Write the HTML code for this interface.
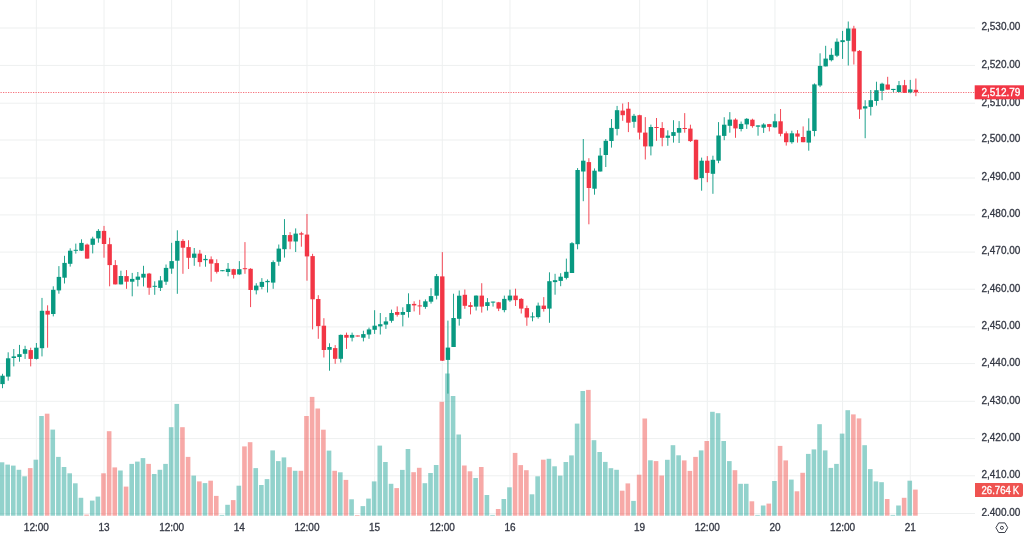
<!DOCTYPE html>
<html><head><meta charset="utf-8"><style>
html,body{margin:0;padding:0;background:#fff;width:1024px;height:535px;overflow:hidden}
svg{display:block;filter:blur(0.3px)}
.ax{font-family:"Liberation Sans",sans-serif;font-size:10px;fill:#343844;stroke:#343844;stroke-width:0.3px}
</style></head><body>
<svg width="1024" height="535" viewBox="0 0 1024 535">
<rect x="0" y="513" width="975" height="1" fill="#EEF0F0"/>
<rect x="0" y="475.3" width="975" height="1" fill="#EEF0F0"/>
<rect x="0" y="438.1" width="975" height="1" fill="#EEF0F0"/>
<rect x="0" y="400.8" width="975" height="1" fill="#EEF0F0"/>
<rect x="0" y="363.1" width="975" height="1" fill="#EEF0F0"/>
<rect x="0" y="326.4" width="975" height="1" fill="#EEF0F0"/>
<rect x="0" y="288.7" width="975" height="1" fill="#EEF0F0"/>
<rect x="0" y="251.6" width="975" height="1" fill="#EEF0F0"/>
<rect x="0" y="214.4" width="975" height="1" fill="#EEF0F0"/>
<rect x="0" y="177.5" width="975" height="1" fill="#EEF0F0"/>
<rect x="0" y="139.5" width="975" height="1" fill="#EEF0F0"/>
<rect x="0" y="102.7" width="975" height="1" fill="#EEF0F0"/>
<rect x="0" y="64.9" width="975" height="1" fill="#EEF0F0"/>
<rect x="0" y="27.5" width="975" height="1" fill="#EEF0F0"/>
<rect x="35.85" y="0" width="1" height="515.7" fill="#EEF0F0"/>
<rect x="103.51" y="0" width="1" height="515.7" fill="#EEF0F0"/>
<rect x="171.16" y="0" width="1" height="515.7" fill="#EEF0F0"/>
<rect x="238.82" y="0" width="1" height="515.7" fill="#EEF0F0"/>
<rect x="306.48" y="0" width="1" height="515.7" fill="#EEF0F0"/>
<rect x="374.14" y="0" width="1" height="515.7" fill="#EEF0F0"/>
<rect x="441.79" y="0" width="1" height="515.7" fill="#EEF0F0"/>
<rect x="509.45" y="0" width="1" height="515.7" fill="#EEF0F0"/>
<rect x="639.13" y="0" width="1" height="515.7" fill="#EEF0F0"/>
<rect x="706.78" y="0" width="1" height="515.7" fill="#EEF0F0"/>
<rect x="774.44" y="0" width="1" height="515.7" fill="#EEF0F0"/>
<rect x="842.1" y="0" width="1" height="515.7" fill="#EEF0F0"/>
<rect x="909.76" y="0" width="1" height="515.7" fill="#EEF0F0"/>
<rect x="-0.28" y="462.3" width="4.6" height="53.4" fill="rgba(38,166,154,0.5)"/>
<rect x="5.36" y="464.6" width="4.6" height="51.1" fill="rgba(38,166,154,0.5)"/>
<rect x="11" y="465.6" width="4.6" height="50.1" fill="rgba(38,166,154,0.5)"/>
<rect x="16.64" y="469.8" width="4.6" height="45.9" fill="rgba(38,166,154,0.5)"/>
<rect x="22.27" y="476.3" width="4.6" height="39.4" fill="rgba(38,166,154,0.5)"/>
<rect x="27.91" y="468.1" width="4.6" height="47.6" fill="rgba(239,83,80,0.5)"/>
<rect x="33.55" y="459.7" width="4.6" height="56" fill="rgba(38,166,154,0.5)"/>
<rect x="39.19" y="416" width="4.6" height="99.7" fill="rgba(38,166,154,0.5)"/>
<rect x="44.83" y="413.7" width="4.6" height="102" fill="rgba(239,83,80,0.5)"/>
<rect x="50.46" y="429.6" width="4.6" height="86.1" fill="rgba(38,166,154,0.5)"/>
<rect x="56.1" y="456.9" width="4.6" height="58.8" fill="rgba(38,166,154,0.5)"/>
<rect x="61.74" y="467" width="4.6" height="48.7" fill="rgba(38,166,154,0.5)"/>
<rect x="67.38" y="473.3" width="4.6" height="42.4" fill="rgba(38,166,154,0.5)"/>
<rect x="73.02" y="483.3" width="4.6" height="32.4" fill="rgba(38,166,154,0.5)"/>
<rect x="78.65" y="497.8" width="4.6" height="17.9" fill="rgba(38,166,154,0.5)"/>
<rect x="84.29" y="514.6" width="4.6" height="1.1" fill="rgba(239,83,80,0.5)"/>
<rect x="89.93" y="500.6" width="4.6" height="15.1" fill="rgba(38,166,154,0.5)"/>
<rect x="95.57" y="496.6" width="4.6" height="19.1" fill="rgba(38,166,154,0.5)"/>
<rect x="101.21" y="473.3" width="4.6" height="42.4" fill="rgba(239,83,80,0.5)"/>
<rect x="106.85" y="431.2" width="4.6" height="84.5" fill="rgba(239,83,80,0.5)"/>
<rect x="112.48" y="467.4" width="4.6" height="48.3" fill="rgba(239,83,80,0.5)"/>
<rect x="118.12" y="470.5" width="4.6" height="45.2" fill="rgba(38,166,154,0.5)"/>
<rect x="123.76" y="486.6" width="4.6" height="29.1" fill="rgba(239,83,80,0.5)"/>
<rect x="129.4" y="463.9" width="4.6" height="51.8" fill="rgba(38,166,154,0.5)"/>
<rect x="135.04" y="461.6" width="4.6" height="54.1" fill="rgba(38,166,154,0.5)"/>
<rect x="140.67" y="458.1" width="4.6" height="57.6" fill="rgba(38,166,154,0.5)"/>
<rect x="146.31" y="463.9" width="4.6" height="51.8" fill="rgba(239,83,80,0.5)"/>
<rect x="151.95" y="474" width="4.6" height="41.7" fill="rgba(38,166,154,0.5)"/>
<rect x="157.59" y="469.8" width="4.6" height="45.9" fill="rgba(38,166,154,0.5)"/>
<rect x="163.23" y="463.9" width="4.6" height="51.8" fill="rgba(38,166,154,0.5)"/>
<rect x="168.86" y="427.2" width="4.6" height="88.5" fill="rgba(38,166,154,0.5)"/>
<rect x="174.5" y="403.9" width="4.6" height="111.8" fill="rgba(38,166,154,0.5)"/>
<rect x="180.14" y="427.2" width="4.6" height="88.5" fill="rgba(239,83,80,0.5)"/>
<rect x="185.78" y="456.9" width="4.6" height="58.8" fill="rgba(239,83,80,0.5)"/>
<rect x="191.42" y="475.6" width="4.6" height="40.1" fill="rgba(38,166,154,0.5)"/>
<rect x="197.05" y="481.4" width="4.6" height="34.3" fill="rgba(239,83,80,0.5)"/>
<rect x="202.69" y="483.1" width="4.6" height="32.6" fill="rgba(38,166,154,0.5)"/>
<rect x="208.33" y="480.7" width="4.6" height="35" fill="rgba(239,83,80,0.5)"/>
<rect x="213.97" y="495.9" width="4.6" height="19.8" fill="rgba(239,83,80,0.5)"/>
<rect x="219.61" y="514.9" width="4.6" height="0.8" fill="rgba(38,166,154,0.5)"/>
<rect x="225.25" y="504.8" width="4.6" height="10.9" fill="rgba(38,166,154,0.5)"/>
<rect x="230.88" y="500.1" width="4.6" height="15.6" fill="rgba(239,83,80,0.5)"/>
<rect x="236.52" y="485.7" width="4.6" height="30" fill="rgba(38,166,154,0.5)"/>
<rect x="242.16" y="446.4" width="4.6" height="69.3" fill="rgba(239,83,80,0.5)"/>
<rect x="247.8" y="442.2" width="4.6" height="73.5" fill="rgba(239,83,80,0.5)"/>
<rect x="253.44" y="468.1" width="4.6" height="47.6" fill="rgba(38,166,154,0.5)"/>
<rect x="259.07" y="485" width="4.6" height="30.7" fill="rgba(38,166,154,0.5)"/>
<rect x="264.71" y="479.1" width="4.6" height="36.6" fill="rgba(38,166,154,0.5)"/>
<rect x="270.35" y="450.4" width="4.6" height="65.3" fill="rgba(38,166,154,0.5)"/>
<rect x="275.99" y="461.1" width="4.6" height="54.6" fill="rgba(38,166,154,0.5)"/>
<rect x="281.63" y="457.4" width="4.6" height="58.3" fill="rgba(38,166,154,0.5)"/>
<rect x="287.26" y="467.2" width="4.6" height="48.5" fill="rgba(239,83,80,0.5)"/>
<rect x="292.9" y="470.8" width="4.6" height="44.9" fill="rgba(38,166,154,0.5)"/>
<rect x="298.54" y="470.8" width="4.6" height="44.9" fill="rgba(239,83,80,0.5)"/>
<rect x="304.18" y="416" width="4.6" height="99.7" fill="rgba(239,83,80,0.5)"/>
<rect x="309.82" y="396.9" width="4.6" height="118.8" fill="rgba(239,83,80,0.5)"/>
<rect x="315.45" y="408.5" width="4.6" height="107.2" fill="rgba(239,83,80,0.5)"/>
<rect x="321.09" y="429.7" width="4.6" height="86" fill="rgba(239,83,80,0.5)"/>
<rect x="326.73" y="450.6" width="4.6" height="65.1" fill="rgba(38,166,154,0.5)"/>
<rect x="332.37" y="470.8" width="4.6" height="44.9" fill="rgba(239,83,80,0.5)"/>
<rect x="338.01" y="472.3" width="4.6" height="43.4" fill="rgba(38,166,154,0.5)"/>
<rect x="343.65" y="479.9" width="4.6" height="35.8" fill="rgba(239,83,80,0.5)"/>
<rect x="349.28" y="499.3" width="4.6" height="16.4" fill="rgba(38,166,154,0.5)"/>
<rect x="354.92" y="515" width="4.6" height="0.7" fill="rgba(239,83,80,0.5)"/>
<rect x="360.56" y="506.1" width="4.6" height="9.6" fill="rgba(38,166,154,0.5)"/>
<rect x="366.2" y="498.6" width="4.6" height="17.1" fill="rgba(38,166,154,0.5)"/>
<rect x="371.84" y="481.4" width="4.6" height="34.3" fill="rgba(38,166,154,0.5)"/>
<rect x="377.47" y="445.6" width="4.6" height="70.1" fill="rgba(38,166,154,0.5)"/>
<rect x="383.11" y="462" width="4.6" height="53.7" fill="rgba(38,166,154,0.5)"/>
<rect x="388.75" y="483.8" width="4.6" height="31.9" fill="rgba(38,166,154,0.5)"/>
<rect x="394.39" y="488.1" width="4.6" height="27.6" fill="rgba(239,83,80,0.5)"/>
<rect x="400.03" y="469.9" width="4.6" height="45.8" fill="rgba(38,166,154,0.5)"/>
<rect x="405.66" y="449" width="4.6" height="66.7" fill="rgba(38,166,154,0.5)"/>
<rect x="411.3" y="472.2" width="4.6" height="43.5" fill="rgba(239,83,80,0.5)"/>
<rect x="416.94" y="467.8" width="4.6" height="47.9" fill="rgba(239,83,80,0.5)"/>
<rect x="422.58" y="483.2" width="4.6" height="32.5" fill="rgba(38,166,154,0.5)"/>
<rect x="428.22" y="473" width="4.6" height="42.7" fill="rgba(38,166,154,0.5)"/>
<rect x="433.86" y="465" width="4.6" height="50.7" fill="rgba(38,166,154,0.5)"/>
<rect x="439.49" y="401.8" width="4.6" height="113.9" fill="rgba(239,83,80,0.5)"/>
<rect x="445.13" y="373.5" width="4.6" height="142.2" fill="rgba(38,166,154,0.5)"/>
<rect x="450.77" y="396" width="4.6" height="119.7" fill="rgba(38,166,154,0.5)"/>
<rect x="456.41" y="434.5" width="4.6" height="81.2" fill="rgba(38,166,154,0.5)"/>
<rect x="462.05" y="465.5" width="4.6" height="50.2" fill="rgba(239,83,80,0.5)"/>
<rect x="467.68" y="471.3" width="4.6" height="44.4" fill="rgba(239,83,80,0.5)"/>
<rect x="473.32" y="478" width="4.6" height="37.7" fill="rgba(38,166,154,0.5)"/>
<rect x="478.96" y="467" width="4.6" height="48.7" fill="rgba(239,83,80,0.5)"/>
<rect x="484.6" y="495" width="4.6" height="20.7" fill="rgba(38,166,154,0.5)"/>
<rect x="490.24" y="514.9" width="4.6" height="0.8" fill="rgba(38,166,154,0.5)"/>
<rect x="495.87" y="509" width="4.6" height="6.7" fill="rgba(239,83,80,0.5)"/>
<rect x="501.51" y="499" width="4.6" height="16.7" fill="rgba(38,166,154,0.5)"/>
<rect x="507.15" y="487.3" width="4.6" height="28.4" fill="rgba(38,166,154,0.5)"/>
<rect x="512.79" y="452.9" width="4.6" height="62.8" fill="rgba(239,83,80,0.5)"/>
<rect x="518.43" y="465.1" width="4.6" height="50.6" fill="rgba(239,83,80,0.5)"/>
<rect x="524.06" y="470.2" width="4.6" height="45.5" fill="rgba(239,83,80,0.5)"/>
<rect x="529.7" y="494.3" width="4.6" height="21.4" fill="rgba(38,166,154,0.5)"/>
<rect x="535.34" y="476.3" width="4.6" height="39.4" fill="rgba(38,166,154,0.5)"/>
<rect x="540.98" y="459.7" width="4.6" height="56" fill="rgba(239,83,80,0.5)"/>
<rect x="546.62" y="458.8" width="4.6" height="56.9" fill="rgba(38,166,154,0.5)"/>
<rect x="552.26" y="466.3" width="4.6" height="49.4" fill="rgba(38,166,154,0.5)"/>
<rect x="557.89" y="475.6" width="4.6" height="40.1" fill="rgba(38,166,154,0.5)"/>
<rect x="563.53" y="462" width="4.6" height="53.7" fill="rgba(38,166,154,0.5)"/>
<rect x="569.17" y="455.4" width="4.6" height="60.3" fill="rgba(38,166,154,0.5)"/>
<rect x="574.81" y="423.6" width="4.6" height="92.1" fill="rgba(38,166,154,0.5)"/>
<rect x="580.45" y="391" width="4.6" height="124.7" fill="rgba(38,166,154,0.5)"/>
<rect x="586.08" y="389.9" width="4.6" height="125.8" fill="rgba(239,83,80,0.5)"/>
<rect x="591.72" y="440.2" width="4.6" height="75.5" fill="rgba(38,166,154,0.5)"/>
<rect x="597.36" y="452" width="4.6" height="63.7" fill="rgba(38,166,154,0.5)"/>
<rect x="603" y="461.9" width="4.6" height="53.8" fill="rgba(38,166,154,0.5)"/>
<rect x="608.64" y="468.2" width="4.6" height="47.5" fill="rgba(38,166,154,0.5)"/>
<rect x="614.27" y="469.8" width="4.6" height="45.9" fill="rgba(38,166,154,0.5)"/>
<rect x="619.91" y="490.7" width="4.6" height="25" fill="rgba(239,83,80,0.5)"/>
<rect x="625.55" y="483.4" width="4.6" height="32.3" fill="rgba(239,83,80,0.5)"/>
<rect x="631.19" y="500.9" width="4.6" height="14.8" fill="rgba(38,166,154,0.5)"/>
<rect x="636.83" y="474.7" width="4.6" height="41" fill="rgba(239,83,80,0.5)"/>
<rect x="642.46" y="418.5" width="4.6" height="97.2" fill="rgba(239,83,80,0.5)"/>
<rect x="648.1" y="460.3" width="4.6" height="55.4" fill="rgba(38,166,154,0.5)"/>
<rect x="653.74" y="461.1" width="4.6" height="54.6" fill="rgba(239,83,80,0.5)"/>
<rect x="659.38" y="475.5" width="4.6" height="40.2" fill="rgba(239,83,80,0.5)"/>
<rect x="665.02" y="459.8" width="4.6" height="55.9" fill="rgba(38,166,154,0.5)"/>
<rect x="670.66" y="445.2" width="4.6" height="70.5" fill="rgba(38,166,154,0.5)"/>
<rect x="676.29" y="455.3" width="4.6" height="60.4" fill="rgba(38,166,154,0.5)"/>
<rect x="681.93" y="460.4" width="4.6" height="55.3" fill="rgba(239,83,80,0.5)"/>
<rect x="687.57" y="470.9" width="4.6" height="44.8" fill="rgba(239,83,80,0.5)"/>
<rect x="693.21" y="456.9" width="4.6" height="58.8" fill="rgba(239,83,80,0.5)"/>
<rect x="698.85" y="450.4" width="4.6" height="65.3" fill="rgba(38,166,154,0.5)"/>
<rect x="704.48" y="441" width="4.6" height="74.7" fill="rgba(239,83,80,0.5)"/>
<rect x="710.12" y="411.8" width="4.6" height="103.9" fill="rgba(38,166,154,0.5)"/>
<rect x="715.76" y="413.2" width="4.6" height="102.5" fill="rgba(38,166,154,0.5)"/>
<rect x="721.4" y="441" width="4.6" height="74.7" fill="rgba(38,166,154,0.5)"/>
<rect x="727.04" y="461.1" width="4.6" height="54.6" fill="rgba(38,166,154,0.5)"/>
<rect x="732.67" y="470.2" width="4.6" height="45.5" fill="rgba(239,83,80,0.5)"/>
<rect x="738.31" y="483.8" width="4.6" height="31.9" fill="rgba(38,166,154,0.5)"/>
<rect x="743.95" y="483.8" width="4.6" height="31.9" fill="rgba(38,166,154,0.5)"/>
<rect x="749.59" y="501.3" width="4.6" height="14.4" fill="rgba(239,83,80,0.5)"/>
<rect x="755.23" y="514.9" width="4.6" height="0.8" fill="rgba(38,166,154,0.5)"/>
<rect x="760.86" y="505.5" width="4.6" height="10.2" fill="rgba(38,166,154,0.5)"/>
<rect x="766.5" y="503.6" width="4.6" height="12.1" fill="rgba(239,83,80,0.5)"/>
<rect x="772.14" y="481" width="4.6" height="34.7" fill="rgba(38,166,154,0.5)"/>
<rect x="777.78" y="445.9" width="4.6" height="69.8" fill="rgba(239,83,80,0.5)"/>
<rect x="783.42" y="460.4" width="4.6" height="55.3" fill="rgba(239,83,80,0.5)"/>
<rect x="789.06" y="479.6" width="4.6" height="36.1" fill="rgba(38,166,154,0.5)"/>
<rect x="794.69" y="491.3" width="4.6" height="24.4" fill="rgba(239,83,80,0.5)"/>
<rect x="800.33" y="472.8" width="4.6" height="42.9" fill="rgba(239,83,80,0.5)"/>
<rect x="805.97" y="453.9" width="4.6" height="61.8" fill="rgba(38,166,154,0.5)"/>
<rect x="811.61" y="449.4" width="4.6" height="66.3" fill="rgba(38,166,154,0.5)"/>
<rect x="817.25" y="424.2" width="4.6" height="91.5" fill="rgba(38,166,154,0.5)"/>
<rect x="822.88" y="450.4" width="4.6" height="65.3" fill="rgba(38,166,154,0.5)"/>
<rect x="828.52" y="467.9" width="4.6" height="47.8" fill="rgba(38,166,154,0.5)"/>
<rect x="834.16" y="463.9" width="4.6" height="51.8" fill="rgba(38,166,154,0.5)"/>
<rect x="839.8" y="433.6" width="4.6" height="82.1" fill="rgba(38,166,154,0.5)"/>
<rect x="845.44" y="410.2" width="4.6" height="105.5" fill="rgba(38,166,154,0.5)"/>
<rect x="851.07" y="414.4" width="4.6" height="101.3" fill="rgba(239,83,80,0.5)"/>
<rect x="856.71" y="418.4" width="4.6" height="97.3" fill="rgba(239,83,80,0.5)"/>
<rect x="862.35" y="445.2" width="4.6" height="70.5" fill="rgba(38,166,154,0.5)"/>
<rect x="867.99" y="469.1" width="4.6" height="46.6" fill="rgba(38,166,154,0.5)"/>
<rect x="873.63" y="481.4" width="4.6" height="34.3" fill="rgba(38,166,154,0.5)"/>
<rect x="879.26" y="482.2" width="4.6" height="33.5" fill="rgba(38,166,154,0.5)"/>
<rect x="884.9" y="499" width="4.6" height="16.7" fill="rgba(239,83,80,0.5)"/>
<rect x="890.54" y="514.9" width="4.6" height="0.8" fill="rgba(38,166,154,0.5)"/>
<rect x="896.18" y="505.5" width="4.6" height="10.2" fill="rgba(38,166,154,0.5)"/>
<rect x="901.82" y="497.8" width="4.6" height="17.9" fill="rgba(239,83,80,0.5)"/>
<rect x="907.46" y="480.7" width="4.6" height="35" fill="rgba(38,166,154,0.5)"/>
<rect x="913.09" y="489.6" width="4.6" height="26.1" fill="rgba(239,83,80,0.5)"/>
<line x1="0" y1="92.5" x2="975" y2="92.5" stroke="#F23645" stroke-width="1" stroke-dasharray="1.25 1.25" stroke-dashoffset="2" stroke-opacity="0.7"/>
<rect x="2.07" y="373.8" width="0.9" height="14.4" fill="#089981"/>
<rect x="0.32" y="375.7" width="4.4" height="8.4" fill="#089981"/>
<rect x="7.71" y="352.3" width="0.9" height="28.4" fill="#089981"/>
<rect x="5.96" y="358.3" width="4.4" height="18.3" fill="#089981"/>
<rect x="13.35" y="349" width="0.9" height="17.4" fill="#089981"/>
<rect x="11.6" y="356.4" width="4.4" height="1.6" fill="#089981"/>
<rect x="18.99" y="344.9" width="0.9" height="16.8" fill="#089981"/>
<rect x="17.24" y="354.2" width="4.4" height="2.8" fill="#089981"/>
<rect x="24.62" y="345.8" width="0.9" height="13.1" fill="#089981"/>
<rect x="22.87" y="349.2" width="4.4" height="4.6" fill="#089981"/>
<rect x="30.26" y="347.7" width="0.9" height="18.7" fill="#F23645"/>
<rect x="28.51" y="350.1" width="4.4" height="8.8" fill="#F23645"/>
<rect x="35.9" y="343" width="0.9" height="16.5" fill="#089981"/>
<rect x="34.15" y="347.7" width="4.4" height="11.2" fill="#089981"/>
<rect x="41.54" y="297.9" width="0.9" height="58.5" fill="#089981"/>
<rect x="39.79" y="310.8" width="4.4" height="37.4" fill="#089981"/>
<rect x="47.18" y="305.3" width="0.9" height="42.4" fill="#F23645"/>
<rect x="45.43" y="310.8" width="4.4" height="3.8" fill="#F23645"/>
<rect x="52.81" y="286.3" width="0.9" height="30.1" fill="#089981"/>
<rect x="51.06" y="289.8" width="4.4" height="24.2" fill="#089981"/>
<rect x="58.45" y="266.1" width="0.9" height="27.6" fill="#089981"/>
<rect x="56.7" y="276.9" width="4.4" height="13.5" fill="#089981"/>
<rect x="64.09" y="255.8" width="0.9" height="27.7" fill="#089981"/>
<rect x="62.34" y="262.9" width="4.4" height="14.8" fill="#089981"/>
<rect x="69.73" y="248.3" width="0.9" height="18.3" fill="#089981"/>
<rect x="67.98" y="250.7" width="4.4" height="13.1" fill="#089981"/>
<rect x="75.37" y="243.6" width="0.9" height="10" fill="#089981"/>
<rect x="73.62" y="249.8" width="4.4" height="1" fill="#089981"/>
<rect x="81" y="239.3" width="0.9" height="11.7" fill="#089981"/>
<rect x="79.25" y="242.9" width="4.4" height="7.8" fill="#089981"/>
<rect x="86.64" y="243.6" width="0.9" height="15" fill="#F23645"/>
<rect x="84.89" y="244.6" width="4.4" height="14" fill="#F23645"/>
<rect x="92.28" y="236.7" width="0.9" height="16.7" fill="#089981"/>
<rect x="90.53" y="238.6" width="4.4" height="6.2" fill="#089981"/>
<rect x="97.92" y="229.1" width="0.9" height="13.6" fill="#089981"/>
<rect x="96.17" y="230.9" width="4.4" height="7.5" fill="#089981"/>
<rect x="103.56" y="225.9" width="0.9" height="31.8" fill="#F23645"/>
<rect x="101.81" y="230.9" width="4.4" height="13.1" fill="#F23645"/>
<rect x="109.2" y="237.7" width="0.9" height="48.6" fill="#F23645"/>
<rect x="107.45" y="244.2" width="4.4" height="20.9" fill="#F23645"/>
<rect x="114.83" y="260.1" width="0.9" height="24.3" fill="#F23645"/>
<rect x="113.08" y="265.1" width="4.4" height="19.3" fill="#F23645"/>
<rect x="120.47" y="270.7" width="0.9" height="13.7" fill="#089981"/>
<rect x="118.72" y="276" width="4.4" height="8.4" fill="#089981"/>
<rect x="126.11" y="270.1" width="0.9" height="18.7" fill="#F23645"/>
<rect x="124.36" y="276.1" width="4.4" height="5.6" fill="#F23645"/>
<rect x="131.75" y="272.9" width="0.9" height="23.4" fill="#089981"/>
<rect x="130" y="278.9" width="4.4" height="2.8" fill="#089981"/>
<rect x="137.39" y="272" width="0.9" height="14.4" fill="#089981"/>
<rect x="135.64" y="276.6" width="4.4" height="3.2" fill="#089981"/>
<rect x="143.02" y="265.8" width="0.9" height="20.6" fill="#089981"/>
<rect x="141.27" y="273.8" width="4.4" height="3.8" fill="#089981"/>
<rect x="148.66" y="272.9" width="0.9" height="21.9" fill="#F23645"/>
<rect x="146.91" y="273.6" width="4.4" height="14.1" fill="#F23645"/>
<rect x="154.3" y="281.3" width="0.9" height="13.5" fill="#089981"/>
<rect x="152.55" y="285.8" width="4.4" height="1" fill="#089981"/>
<rect x="159.94" y="276.1" width="0.9" height="14.9" fill="#089981"/>
<rect x="158.19" y="280.4" width="4.4" height="7.5" fill="#089981"/>
<rect x="165.58" y="264.5" width="0.9" height="20.4" fill="#089981"/>
<rect x="163.83" y="267.9" width="4.4" height="13.8" fill="#089981"/>
<rect x="171.21" y="242.8" width="0.9" height="31" fill="#089981"/>
<rect x="169.46" y="261.1" width="4.4" height="7.5" fill="#089981"/>
<rect x="176.85" y="230.3" width="0.9" height="63.5" fill="#089981"/>
<rect x="175.1" y="240.9" width="4.4" height="19.8" fill="#089981"/>
<rect x="182.49" y="239.1" width="0.9" height="34.7" fill="#F23645"/>
<rect x="180.74" y="240.9" width="4.4" height="6.8" fill="#F23645"/>
<rect x="188.13" y="240.2" width="0.9" height="28.8" fill="#F23645"/>
<rect x="186.38" y="247.1" width="4.4" height="10.7" fill="#F23645"/>
<rect x="193.77" y="248" width="0.9" height="17.8" fill="#089981"/>
<rect x="192.02" y="253.6" width="4.4" height="4.2" fill="#089981"/>
<rect x="199.4" y="249.9" width="0.9" height="16.8" fill="#F23645"/>
<rect x="197.65" y="253.6" width="4.4" height="8.5" fill="#F23645"/>
<rect x="205.04" y="255.1" width="0.9" height="11.6" fill="#089981"/>
<rect x="203.29" y="258.9" width="4.4" height="1.3" fill="#089981"/>
<rect x="210.68" y="256.4" width="0.9" height="25.3" fill="#F23645"/>
<rect x="208.93" y="259.3" width="4.4" height="4.3" fill="#F23645"/>
<rect x="216.32" y="259.3" width="0.9" height="14.2" fill="#F23645"/>
<rect x="214.57" y="263.1" width="4.4" height="8.7" fill="#F23645"/>
<rect x="221.96" y="270.2" width="0.9" height="1" fill="#089981"/>
<rect x="220.21" y="270.2" width="4.4" height="1" fill="#089981"/>
<rect x="227.6" y="263" width="0.9" height="13.3" fill="#089981"/>
<rect x="225.85" y="268.8" width="4.4" height="3.2" fill="#089981"/>
<rect x="233.23" y="268.8" width="0.9" height="9.7" fill="#F23645"/>
<rect x="231.48" y="269.2" width="4.4" height="5.6" fill="#F23645"/>
<rect x="238.87" y="261.1" width="0.9" height="13.7" fill="#089981"/>
<rect x="237.12" y="269.2" width="4.4" height="5.2" fill="#089981"/>
<rect x="244.51" y="242.1" width="0.9" height="31.7" fill="#F23645"/>
<rect x="242.76" y="268.2" width="4.4" height="1" fill="#F23645"/>
<rect x="250.15" y="268.2" width="0.9" height="38.9" fill="#F23645"/>
<rect x="248.4" y="268.8" width="4.4" height="21.2" fill="#F23645"/>
<rect x="255.79" y="283.2" width="0.9" height="11.2" fill="#089981"/>
<rect x="254.04" y="285.6" width="4.4" height="4.7" fill="#089981"/>
<rect x="261.42" y="278.1" width="0.9" height="11.2" fill="#089981"/>
<rect x="259.67" y="281.9" width="4.4" height="5" fill="#089981"/>
<rect x="267.06" y="279.4" width="0.9" height="13.1" fill="#089981"/>
<rect x="265.31" y="280.9" width="4.4" height="1.3" fill="#089981"/>
<rect x="272.7" y="260.4" width="0.9" height="28.4" fill="#089981"/>
<rect x="270.95" y="262.1" width="4.4" height="20.5" fill="#089981"/>
<rect x="278.34" y="244.5" width="0.9" height="21.3" fill="#089981"/>
<rect x="276.59" y="248.6" width="4.4" height="13.1" fill="#089981"/>
<rect x="283.98" y="219.1" width="0.9" height="38.5" fill="#089981"/>
<rect x="282.23" y="235" width="4.4" height="14.2" fill="#089981"/>
<rect x="289.61" y="232.1" width="0.9" height="17.1" fill="#F23645"/>
<rect x="287.86" y="235.1" width="4.4" height="6.4" fill="#F23645"/>
<rect x="295.25" y="228.4" width="0.9" height="23.6" fill="#089981"/>
<rect x="293.5" y="233.6" width="4.4" height="7.9" fill="#089981"/>
<rect x="300.89" y="231.8" width="0.9" height="14.9" fill="#F23645"/>
<rect x="299.14" y="233.3" width="4.4" height="1.3" fill="#F23645"/>
<rect x="306.53" y="214" width="0.9" height="66.7" fill="#F23645"/>
<rect x="304.78" y="234.6" width="4.4" height="21.8" fill="#F23645"/>
<rect x="312.17" y="253.8" width="0.9" height="75.6" fill="#F23645"/>
<rect x="310.42" y="256.1" width="4.4" height="43.2" fill="#F23645"/>
<rect x="317.81" y="295.2" width="0.9" height="43.6" fill="#F23645"/>
<rect x="316.06" y="299" width="4.4" height="27.1" fill="#F23645"/>
<rect x="323.44" y="318.2" width="0.9" height="39.3" fill="#F23645"/>
<rect x="321.69" y="325.7" width="4.4" height="24.3" fill="#F23645"/>
<rect x="329.08" y="343.3" width="0.9" height="27.4" fill="#089981"/>
<rect x="327.33" y="347" width="4.4" height="2.8" fill="#089981"/>
<rect x="334.72" y="345.1" width="0.9" height="18.7" fill="#F23645"/>
<rect x="332.97" y="348.1" width="4.4" height="10.7" fill="#F23645"/>
<rect x="340.36" y="334.5" width="0.9" height="28" fill="#089981"/>
<rect x="338.61" y="334.9" width="4.4" height="23.9" fill="#089981"/>
<rect x="346" y="332.6" width="0.9" height="16.3" fill="#F23645"/>
<rect x="344.25" y="334.9" width="4.4" height="2.8" fill="#F23645"/>
<rect x="351.63" y="332.6" width="0.9" height="8.8" fill="#089981"/>
<rect x="349.88" y="334.9" width="4.4" height="2.8" fill="#089981"/>
<rect x="357.27" y="335.5" width="0.9" height="1" fill="#F23645"/>
<rect x="355.52" y="335.5" width="4.4" height="1" fill="#F23645"/>
<rect x="362.91" y="330.7" width="0.9" height="10.7" fill="#089981"/>
<rect x="361.16" y="334.1" width="4.4" height="3.6" fill="#089981"/>
<rect x="368.55" y="327.6" width="0.9" height="11.2" fill="#089981"/>
<rect x="366.8" y="329.4" width="4.4" height="5.1" fill="#089981"/>
<rect x="374.19" y="310.2" width="0.9" height="23.7" fill="#089981"/>
<rect x="372.44" y="325.7" width="4.4" height="4.1" fill="#089981"/>
<rect x="379.82" y="313" width="0.9" height="21.5" fill="#089981"/>
<rect x="378.07" y="324.2" width="4.4" height="2.2" fill="#089981"/>
<rect x="385.46" y="317.1" width="0.9" height="11.8" fill="#089981"/>
<rect x="383.71" y="321.4" width="4.4" height="3.2" fill="#089981"/>
<rect x="391.1" y="309.6" width="0.9" height="13.1" fill="#089981"/>
<rect x="389.35" y="313" width="4.4" height="7.8" fill="#089981"/>
<rect x="396.74" y="306.4" width="0.9" height="10.2" fill="#F23645"/>
<rect x="394.99" y="312" width="4.4" height="2.8" fill="#F23645"/>
<rect x="402.38" y="307.3" width="0.9" height="19.1" fill="#089981"/>
<rect x="400.63" y="312" width="4.4" height="2.8" fill="#089981"/>
<rect x="408.01" y="293.3" width="0.9" height="24.3" fill="#089981"/>
<rect x="406.26" y="304.1" width="4.4" height="7.9" fill="#089981"/>
<rect x="413.65" y="301.3" width="0.9" height="10.1" fill="#F23645"/>
<rect x="411.9" y="303.9" width="4.4" height="1.5" fill="#F23645"/>
<rect x="419.29" y="299.8" width="0.9" height="15" fill="#F23645"/>
<rect x="417.54" y="305.4" width="4.4" height="1" fill="#F23645"/>
<rect x="424.93" y="299.4" width="0.9" height="9.4" fill="#089981"/>
<rect x="423.18" y="301.3" width="4.4" height="5.6" fill="#089981"/>
<rect x="430.57" y="288.2" width="0.9" height="15.4" fill="#089981"/>
<rect x="428.82" y="296.1" width="4.4" height="5.6" fill="#089981"/>
<rect x="436.21" y="274" width="0.9" height="25.4" fill="#089981"/>
<rect x="434.46" y="276.1" width="4.4" height="19.6" fill="#089981"/>
<rect x="441.84" y="252.1" width="0.9" height="108.9" fill="#F23645"/>
<rect x="440.09" y="276.4" width="4.4" height="84.3" fill="#F23645"/>
<rect x="447.48" y="320.6" width="0.9" height="73" fill="#089981"/>
<rect x="445.73" y="347.6" width="4.4" height="12.3" fill="#089981"/>
<rect x="453.12" y="293.7" width="0.9" height="53.3" fill="#089981"/>
<rect x="451.37" y="318" width="4.4" height="29" fill="#089981"/>
<rect x="458.76" y="290.5" width="0.9" height="35.1" fill="#089981"/>
<rect x="457.01" y="295.7" width="4.4" height="23.1" fill="#089981"/>
<rect x="464.4" y="289.5" width="0.9" height="19.3" fill="#F23645"/>
<rect x="462.65" y="294.8" width="4.4" height="11" fill="#F23645"/>
<rect x="470.03" y="302.1" width="0.9" height="12.3" fill="#F23645"/>
<rect x="468.28" y="305.2" width="4.4" height="1.7" fill="#F23645"/>
<rect x="475.67" y="295.4" width="0.9" height="15.1" fill="#089981"/>
<rect x="473.92" y="295.6" width="4.4" height="11" fill="#089981"/>
<rect x="481.31" y="283.2" width="0.9" height="29.4" fill="#F23645"/>
<rect x="479.56" y="295.6" width="4.4" height="11" fill="#F23645"/>
<rect x="486.95" y="298.1" width="0.9" height="12.4" fill="#089981"/>
<rect x="485.2" y="302.2" width="4.4" height="3.8" fill="#089981"/>
<rect x="492.59" y="301.6" width="0.9" height="5" fill="#089981"/>
<rect x="490.84" y="301.6" width="4.4" height="1" fill="#089981"/>
<rect x="498.22" y="301.9" width="0.9" height="9.2" fill="#F23645"/>
<rect x="496.47" y="302.3" width="4.4" height="6.3" fill="#F23645"/>
<rect x="503.86" y="295.6" width="0.9" height="16.7" fill="#089981"/>
<rect x="502.11" y="298.9" width="4.4" height="11.2" fill="#089981"/>
<rect x="509.5" y="289.6" width="0.9" height="12.3" fill="#089981"/>
<rect x="507.75" y="295.6" width="4.4" height="4.8" fill="#089981"/>
<rect x="515.14" y="288.7" width="0.9" height="17.3" fill="#F23645"/>
<rect x="513.39" y="295.6" width="4.4" height="4.5" fill="#F23645"/>
<rect x="520.78" y="298.1" width="0.9" height="15.4" fill="#F23645"/>
<rect x="519.03" y="298.9" width="4.4" height="9.7" fill="#F23645"/>
<rect x="526.41" y="305.6" width="0.9" height="20.2" fill="#F23645"/>
<rect x="524.66" y="308.1" width="4.4" height="9.4" fill="#F23645"/>
<rect x="532.05" y="312.3" width="0.9" height="9" fill="#089981"/>
<rect x="530.3" y="316.4" width="4.4" height="1" fill="#089981"/>
<rect x="537.69" y="302.6" width="0.9" height="16" fill="#089981"/>
<rect x="535.94" y="305.6" width="4.4" height="11.5" fill="#089981"/>
<rect x="543.33" y="297.1" width="0.9" height="14.5" fill="#F23645"/>
<rect x="541.58" y="305.6" width="4.4" height="3.4" fill="#F23645"/>
<rect x="548.97" y="272.3" width="0.9" height="50.5" fill="#089981"/>
<rect x="547.22" y="281.2" width="4.4" height="27.4" fill="#089981"/>
<rect x="554.61" y="273.8" width="0.9" height="20.9" fill="#089981"/>
<rect x="552.86" y="280.2" width="4.4" height="1.9" fill="#089981"/>
<rect x="560.24" y="273.2" width="0.9" height="13" fill="#089981"/>
<rect x="558.49" y="276.7" width="4.4" height="4.2" fill="#089981"/>
<rect x="565.88" y="258.6" width="0.9" height="20.8" fill="#089981"/>
<rect x="564.13" y="271.8" width="4.4" height="6.1" fill="#089981"/>
<rect x="571.52" y="242.1" width="0.9" height="30.9" fill="#089981"/>
<rect x="569.77" y="243.2" width="4.4" height="29.8" fill="#089981"/>
<rect x="577.16" y="168.1" width="0.9" height="81.2" fill="#089981"/>
<rect x="575.41" y="170" width="4.4" height="74.2" fill="#089981"/>
<rect x="582.8" y="139" width="0.9" height="62.2" fill="#089981"/>
<rect x="581.05" y="160.7" width="4.4" height="10.8" fill="#089981"/>
<rect x="588.43" y="158.2" width="0.9" height="66.1" fill="#F23645"/>
<rect x="586.68" y="162.1" width="4.4" height="25.9" fill="#F23645"/>
<rect x="594.07" y="168.4" width="0.9" height="26.3" fill="#089981"/>
<rect x="592.32" y="170.7" width="4.4" height="18" fill="#089981"/>
<rect x="599.71" y="147.9" width="0.9" height="23.6" fill="#089981"/>
<rect x="597.96" y="155.6" width="4.4" height="15.9" fill="#089981"/>
<rect x="605.35" y="139" width="0.9" height="28" fill="#089981"/>
<rect x="603.6" y="140.8" width="4.4" height="14.2" fill="#089981"/>
<rect x="610.99" y="119" width="0.9" height="28.6" fill="#089981"/>
<rect x="609.24" y="127.9" width="4.4" height="13.1" fill="#089981"/>
<rect x="616.62" y="105.9" width="0.9" height="29.5" fill="#089981"/>
<rect x="614.87" y="110.2" width="4.4" height="18.7" fill="#089981"/>
<rect x="622.26" y="103.5" width="0.9" height="17.3" fill="#F23645"/>
<rect x="620.51" y="110.6" width="4.4" height="4.6" fill="#F23645"/>
<rect x="627.9" y="102.1" width="0.9" height="30" fill="#F23645"/>
<rect x="626.15" y="108.7" width="4.4" height="14" fill="#F23645"/>
<rect x="633.54" y="113.9" width="0.9" height="13.9" fill="#089981"/>
<rect x="631.79" y="115.8" width="4.4" height="6" fill="#089981"/>
<rect x="639.18" y="114.7" width="0.9" height="24.8" fill="#F23645"/>
<rect x="637.43" y="115.2" width="4.4" height="17.4" fill="#F23645"/>
<rect x="644.81" y="117.1" width="0.9" height="42.4" fill="#F23645"/>
<rect x="643.06" y="132.6" width="4.4" height="13.8" fill="#F23645"/>
<rect x="650.45" y="124.6" width="0.9" height="30.8" fill="#089981"/>
<rect x="648.7" y="127" width="4.4" height="19.4" fill="#089981"/>
<rect x="656.09" y="118" width="0.9" height="22.8" fill="#F23645"/>
<rect x="654.34" y="127" width="4.4" height="1" fill="#F23645"/>
<rect x="661.73" y="122.1" width="0.9" height="24.2" fill="#F23645"/>
<rect x="659.98" y="128" width="4.4" height="9.8" fill="#F23645"/>
<rect x="667.37" y="130.3" width="0.9" height="15.5" fill="#089981"/>
<rect x="665.62" y="135.6" width="4.4" height="2.2" fill="#089981"/>
<rect x="673.01" y="120.2" width="0.9" height="22.4" fill="#089981"/>
<rect x="671.26" y="132.1" width="4.4" height="3.8" fill="#089981"/>
<rect x="678.64" y="121.1" width="0.9" height="21.9" fill="#089981"/>
<rect x="676.89" y="128" width="4.4" height="4.7" fill="#089981"/>
<rect x="684.28" y="113.1" width="0.9" height="19.6" fill="#F23645"/>
<rect x="682.53" y="128" width="4.4" height="1" fill="#F23645"/>
<rect x="689.92" y="124.7" width="0.9" height="17.3" fill="#F23645"/>
<rect x="688.17" y="128.6" width="4.4" height="12.5" fill="#F23645"/>
<rect x="695.56" y="139.6" width="0.9" height="40.4" fill="#F23645"/>
<rect x="693.81" y="139.8" width="4.4" height="39.6" fill="#F23645"/>
<rect x="701.2" y="157.6" width="0.9" height="33.1" fill="#089981"/>
<rect x="699.45" y="160.7" width="4.4" height="17.4" fill="#089981"/>
<rect x="706.83" y="156.1" width="0.9" height="26.1" fill="#F23645"/>
<rect x="705.08" y="160.7" width="4.4" height="12.2" fill="#F23645"/>
<rect x="712.47" y="155.7" width="0.9" height="38.1" fill="#089981"/>
<rect x="710.72" y="159.8" width="4.4" height="14" fill="#089981"/>
<rect x="718.11" y="122.1" width="0.9" height="41.1" fill="#089981"/>
<rect x="716.36" y="135.5" width="4.4" height="25.2" fill="#089981"/>
<rect x="723.75" y="117.2" width="0.9" height="23" fill="#089981"/>
<rect x="722" y="124.7" width="4.4" height="11.2" fill="#089981"/>
<rect x="729.39" y="112.1" width="0.9" height="20.6" fill="#089981"/>
<rect x="727.64" y="119.6" width="4.4" height="6.2" fill="#089981"/>
<rect x="735.02" y="118.3" width="0.9" height="19.5" fill="#F23645"/>
<rect x="733.27" y="119.6" width="4.4" height="8.8" fill="#F23645"/>
<rect x="740.66" y="121.5" width="0.9" height="9.9" fill="#089981"/>
<rect x="738.91" y="123.9" width="4.4" height="5.1" fill="#089981"/>
<rect x="746.3" y="118.1" width="0.9" height="10.8" fill="#089981"/>
<rect x="744.55" y="118.8" width="4.4" height="5.6" fill="#089981"/>
<rect x="751.94" y="118.7" width="0.9" height="9" fill="#F23645"/>
<rect x="750.19" y="119.7" width="4.4" height="6.4" fill="#F23645"/>
<rect x="757.58" y="125.4" width="0.9" height="10.3" fill="#089981"/>
<rect x="755.83" y="125.4" width="4.4" height="1.3" fill="#089981"/>
<rect x="763.21" y="123.2" width="0.9" height="9.7" fill="#089981"/>
<rect x="761.46" y="124.5" width="4.4" height="3.2" fill="#089981"/>
<rect x="768.85" y="123.9" width="0.9" height="7.5" fill="#F23645"/>
<rect x="767.1" y="124.1" width="4.4" height="2.8" fill="#F23645"/>
<rect x="774.49" y="113.8" width="0.9" height="13.9" fill="#089981"/>
<rect x="772.74" y="121.3" width="4.4" height="6" fill="#089981"/>
<rect x="780.13" y="109" width="0.9" height="27.3" fill="#F23645"/>
<rect x="778.38" y="121.3" width="4.4" height="12.5" fill="#F23645"/>
<rect x="785.77" y="131.4" width="0.9" height="14.2" fill="#F23645"/>
<rect x="784.02" y="133.3" width="4.4" height="8.9" fill="#F23645"/>
<rect x="791.41" y="130.7" width="0.9" height="13" fill="#089981"/>
<rect x="789.66" y="133.3" width="4.4" height="8.9" fill="#089981"/>
<rect x="797.04" y="130.1" width="0.9" height="12.5" fill="#F23645"/>
<rect x="795.29" y="133.5" width="4.4" height="3.1" fill="#F23645"/>
<rect x="802.68" y="126.4" width="0.9" height="15.8" fill="#F23645"/>
<rect x="800.93" y="137" width="4.4" height="5.2" fill="#F23645"/>
<rect x="808.32" y="118.3" width="0.9" height="32.4" fill="#089981"/>
<rect x="806.57" y="130.7" width="4.4" height="11.9" fill="#089981"/>
<rect x="813.96" y="83.4" width="0.9" height="52.9" fill="#089981"/>
<rect x="812.21" y="84.4" width="4.4" height="46.6" fill="#089981"/>
<rect x="819.6" y="53.3" width="0.9" height="33.8" fill="#089981"/>
<rect x="817.85" y="65.9" width="4.4" height="19.6" fill="#089981"/>
<rect x="825.23" y="45.8" width="0.9" height="20.6" fill="#089981"/>
<rect x="823.48" y="58.6" width="4.4" height="7.8" fill="#089981"/>
<rect x="830.87" y="48.3" width="0.9" height="13.1" fill="#089981"/>
<rect x="829.12" y="54.8" width="4.4" height="5.4" fill="#089981"/>
<rect x="836.51" y="38.4" width="0.9" height="18.7" fill="#089981"/>
<rect x="834.76" y="41.7" width="4.4" height="14" fill="#089981"/>
<rect x="842.15" y="30.9" width="0.9" height="28" fill="#089981"/>
<rect x="840.4" y="40.2" width="4.4" height="1.9" fill="#089981"/>
<rect x="847.79" y="21.5" width="0.9" height="44" fill="#089981"/>
<rect x="846.04" y="28.5" width="4.4" height="12.3" fill="#089981"/>
<rect x="853.42" y="25.8" width="0.9" height="38.7" fill="#F23645"/>
<rect x="851.67" y="28.5" width="4.4" height="22.9" fill="#F23645"/>
<rect x="859.06" y="50.1" width="0.9" height="68.8" fill="#F23645"/>
<rect x="857.31" y="50.9" width="4.4" height="58.6" fill="#F23645"/>
<rect x="864.7" y="100.2" width="0.9" height="38" fill="#089981"/>
<rect x="862.95" y="106.3" width="4.4" height="2.2" fill="#089981"/>
<rect x="870.34" y="90" width="0.9" height="25.5" fill="#089981"/>
<rect x="868.59" y="100.2" width="4.4" height="6.7" fill="#089981"/>
<rect x="875.98" y="81.7" width="0.9" height="23.9" fill="#089981"/>
<rect x="874.23" y="90.2" width="4.4" height="10.8" fill="#089981"/>
<rect x="881.61" y="82.7" width="0.9" height="17.5" fill="#089981"/>
<rect x="879.86" y="83.7" width="4.4" height="7.1" fill="#089981"/>
<rect x="887.25" y="76.8" width="0.9" height="12.8" fill="#F23645"/>
<rect x="885.5" y="84.5" width="4.4" height="5.1" fill="#F23645"/>
<rect x="892.89" y="88.9" width="0.9" height="3.3" fill="#089981"/>
<rect x="891.14" y="88.9" width="4.4" height="1.1" fill="#089981"/>
<rect x="898.53" y="81" width="0.9" height="11.3" fill="#089981"/>
<rect x="896.78" y="85.2" width="4.4" height="6.8" fill="#089981"/>
<rect x="904.17" y="79.9" width="0.9" height="12.9" fill="#F23645"/>
<rect x="902.42" y="85.2" width="4.4" height="7.6" fill="#F23645"/>
<rect x="909.81" y="79.9" width="0.9" height="13.4" fill="#089981"/>
<rect x="908.06" y="89.4" width="4.4" height="2.9" fill="#089981"/>
<rect x="915.44" y="78.5" width="0.9" height="17.7" fill="#F23645"/>
<rect x="913.69" y="89.8" width="4.4" height="2.5" fill="#F23645"/>
<defs><clipPath id="pa"><rect x="975" y="0" width="49" height="516"/></clipPath></defs>
<g style="filter:opacity(0.999)">
<g clip-path="url(#pa)">
<text x="1020.4" y="515.8" text-anchor="end" class="ax">2,400.00</text>
<text x="1020.4" y="478.1" text-anchor="end" class="ax">2,410.00</text>
<text x="1020.4" y="440.9" text-anchor="end" class="ax">2,420.00</text>
<text x="1020.4" y="403.6" text-anchor="end" class="ax">2,430.00</text>
<text x="1020.4" y="365.9" text-anchor="end" class="ax">2,440.00</text>
<text x="1020.4" y="329.2" text-anchor="end" class="ax">2,450.00</text>
<text x="1020.4" y="291.5" text-anchor="end" class="ax">2,460.00</text>
<text x="1020.4" y="254.4" text-anchor="end" class="ax">2,470.00</text>
<text x="1020.4" y="217.2" text-anchor="end" class="ax">2,480.00</text>
<text x="1020.4" y="180.3" text-anchor="end" class="ax">2,490.00</text>
<text x="1020.4" y="142.3" text-anchor="end" class="ax">2,500.00</text>
<text x="1020.4" y="105.5" text-anchor="end" class="ax">2,510.00</text>
<text x="1020.4" y="67.7" text-anchor="end" class="ax">2,520.00</text>
<text x="1020.4" y="30.3" text-anchor="end" class="ax">2,530.00</text>
</g>
<text x="36.35" y="531.2" text-anchor="middle" class="ax">12:00</text>
<text x="104.01" y="531.2" text-anchor="middle" class="ax">13</text>
<text x="171.66" y="531.2" text-anchor="middle" class="ax">12:00</text>
<text x="239.32" y="531.2" text-anchor="middle" class="ax">14</text>
<text x="306.98" y="531.2" text-anchor="middle" class="ax">12:00</text>
<text x="374.64" y="531.2" text-anchor="middle" class="ax">15</text>
<text x="442.29" y="531.2" text-anchor="middle" class="ax">12:00</text>
<text x="509.95" y="531.2" text-anchor="middle" class="ax">16</text>
<text x="639.63" y="531.2" text-anchor="middle" class="ax">19</text>
<text x="707.28" y="531.2" text-anchor="middle" class="ax">12:00</text>
<text x="774.94" y="531.2" text-anchor="middle" class="ax">20</text>
<text x="842.6" y="531.2" text-anchor="middle" class="ax">12:00</text>
<text x="910.26" y="531.2" text-anchor="middle" class="ax">21</text>
</g>
<rect x="974.7" y="85.3" width="49.3" height="14" fill="#F23645"/>
<text x="1020.4" y="95.6" text-anchor="end" class="ax" style="fill:#fff;stroke:#fff;filter:opacity(0.999)">2,512.79</text>
<path d="M975 483.1 H1021 A2 2 0 0 1 1023 485.1 V495 A2 2 0 0 1 1021 497 H975 Z" fill="#EF5350"/>
<text x="1019.1" y="494.3" text-anchor="end" textLength="37.6" lengthAdjust="spacingAndGlyphs" class="ax" style="fill:#fff;stroke:#fff;filter:opacity(0.999)">26.764 K</text>
<g fill="none" stroke="#3b3f4a" stroke-width="1" stroke-linejoin="round"><path d="M995.9 527.7 L998.7 522.9 L1004.9 522.9 L1007.7 527.7 L1004.9 532.5 L998.7 532.5 Z"/><circle cx="1001.9" cy="527.8" r="1.5"/></g>
</svg>
</body></html>
